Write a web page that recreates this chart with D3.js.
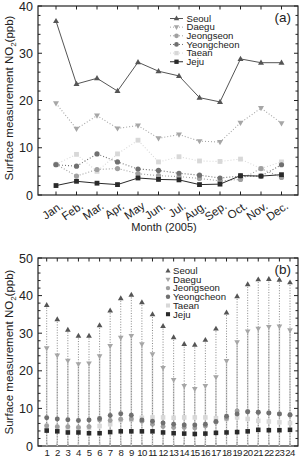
<!DOCTYPE html>
<html><head><meta charset="utf-8">
<script src="https://cdn.jsdelivr.net/npm/d3@7"></script>
<style>body{margin:0;background:#fff}svg{display:block;font-family:"Liberation Sans",Arial,sans-serif}</style>
</head><body>
<script>
const months = ["Jan.","Feb.","Mar.","Apr.","May","Jun.","Jul.","Aug.","Sep.","Oct.","Nov.","Dec."];
const hours = d3.range(1,25);
const seriesNames = ["Seoul","Daegu","Jeongseon","Yeongcheon","Taean","Jeju"];
// Panel (a) monthly means
const mSeoul = [36.8,23.5,24.7,22.0,28.1,26.2,25.2,20.6,19.7,28.8,28.0,28.0];
const mDaegu = [19.4,14.0,16.8,14.1,14.7,12.0,12.8,11.4,11.2,15.3,18.4,15.2];
const mJeongseon = [6.5,4.0,5.4,5.6,4.5,4.1,3.9,3.5,3.0,3.3,5.6,3.7];
const mYeongcheon = [6.4,6.1,8.7,7.0,5.5,5.2,4.6,4.2,3.6,4.0,4.0,6.4];
const mTaean = [6.5,8.6,5.0,8.7,11.6,7.0,8.1,7.2,7.1,7.6,5.6,7.0];
const mJeju = [2.0,2.9,2.5,2.2,3.6,3.3,3.2,2.2,2.3,4.1,4.0,4.3];
// Panel (b) hourly means
const hSeoul = [37.5,33.7,30.9,29.3,29.3,32.1,36.0,39.3,40.2,38.2,35.0,31.9,28.9,27.1,26.9,28.2,31.2,35.5,39.8,43.0,44.3,44.4,44.2,43.5];
const hDaegu = [26.0,24.1,22.7,21.8,22.0,23.9,26.6,28.8,29.3,27.1,24.4,20.8,17.6,16.0,15.2,16.0,18.3,22.6,27.6,30.5,31.2,31.7,31.8,30.8];
const hJeongseon = [5.4,5.1,5.1,4.9,5.1,6.9,6.8,7.1,7.2,6.6,5.8,5.2,4.9,4.9,4.8,5.3,6.3,7.3,9.3,9.1,8.9,8.8,8.5,8.2];
const hYeongcheon = [7.5,7.2,7.0,6.8,6.9,7.3,8.1,8.6,8.2,6.9,6.6,6.1,5.8,5.6,5.6,5.8,6.5,7.9,8.5,9.1,9.0,8.8,8.5,8.3];
const hTaean = [5.0,4.8,4.8,4.7,4.9,5.3,5.8,6.9,7.0,7.5,7.6,7.6,7.5,7.6,7.6,7.6,7.4,7.2,7.6,7.2,6.7,6.5,6.3,6.1];
const hJeju = [4.1,3.9,3.6,3.6,3.4,3.4,3.7,3.9,3.9,3.9,3.9,3.6,3.4,3.3,3.2,3.3,3.5,3.6,3.7,3.9,4.3,4.2,4.2,4.3];
const yTicksA = [0,10,20,30,40];
const yTicksB = [0,10,20,30,40,50];

const styles = {
  Seoul:{shape:"tri",fill:"#555",stroke:"#555",dash:null},
  Daegu:{shape:"itri",fill:"#a6a6a6",stroke:"#a6a6a6",dash:"1,2"},
  Jeongseon:{shape:"circ",fill:"#a0a0a0",stroke:"#a0a0a0",dash:"1,2"},
  Yeongcheon:{shape:"circ",fill:"#707070",stroke:"#707070",dash:"1,2"},
  Taean:{shape:"sq",fill:"#d8d8d8",stroke:"#d8d8d8",dash:"1,2"},
  Jeju:{shape:"sq",fill:"#2a2a2a",stroke:"#2a2a2a",dash:null}
};
const mData = {Seoul:mSeoul,Daegu:mDaegu,Jeongseon:mJeongseon,Yeongcheon:mYeongcheon,Taean:mTaean,Jeju:mJeju};
const hData = {Seoul:hSeoul,Daegu:hDaegu,Jeongseon:hJeongseon,Yeongcheon:hYeongcheon,Taean:hTaean,Jeju:hJeju};

const svg = d3.select("body").append("svg").attr("width",303).attr("height",458);

function marker(g, shape, x, y, fill, s){
  s = s||1;
  if(shape==="tri") g.append("path").attr("d",`M${x},${y-3.2*s}L${x+3*s},${y+2*s}L${x-3*s},${y+2*s}Z`).attr("fill",fill);
  else if(shape==="itri") g.append("path").attr("d",`M${x},${y+3.2*s}L${x+3*s},${y-2*s}L${x-3*s},${y-2*s}Z`).attr("fill",fill);
  else if(shape==="circ") g.append("circle").attr("cx",x).attr("cy",y).attr("r",2.6*s).attr("fill",fill);
  else g.append("rect").attr("x",x-2.4*s).attr("y",y-2.4*s).attr("width",4.8*s).attr("height",4.8*s).attr("fill",fill);
}

function frame(x0,x1,y0,y1,y,yTicks,xTickPos){
  const g = svg.append("g");
  g.append("rect").attr("x",x0).attr("y",y0).attr("width",x1-x0).attr("height",y1-y0).attr("fill","none").attr("stroke","#222").attr("stroke-width",1.2);
  const dom = y.domain();
  d3.range(dom[0],dom[1]+0.001,2).forEach(v=>{
    const major = v%10===0;
    const L = major?4:2.5;
    g.append("line").attr("x1",x0).attr("x2",x0+L).attr("y1",y(v)).attr("y2",y(v)).attr("stroke","#222");
    g.append("line").attr("x1",x1).attr("x2",x1-L).attr("y1",y(v)).attr("y2",y(v)).attr("stroke","#222");
  });
  yTicks.forEach(v=>{
    g.append("text").attr("x",x0-5).attr("y",y(v)+4.5).attr("text-anchor","end").attr("font-size",12.5).attr("fill","#222").text(v);
  });
  xTickPos.forEach(px=>{
    g.append("line").attr("x1",px).attr("x2",px).attr("y1",y0).attr("y2",y0+3.5).attr("stroke","#222");
    g.append("line").attr("x1",px).attr("x2",px).attr("y1",y1).attr("y2",y1-3.5).attr("stroke","#222");
  });
  return g;
}

function ylabel(cx,cy){
  const t = svg.append("text").attr("transform",`translate(${cx},${cy}) rotate(-90)`).attr("text-anchor","middle").attr("font-size",11.5).attr("fill","#222");
  t.append("tspan").text("Surface measurement NO");
  t.append("tspan").attr("font-size",8).attr("dy",3).text("2");
  t.append("tspan").attr("dy",-3).text("(ppb)");
}

// ---------- Panel (a)
const xa = d3.scalePoint().domain(months).range([56,281.5]);
const ya = d3.scaleLinear().domain([0,40]).range([195,6]);
frame(38,298,6,195,ya,yTicksA,months.map(m=>xa(m)));
months.forEach(m=>{
  svg.append("text").attr("transform",`translate(${xa(m)+3},${201}) rotate(-35)`).attr("text-anchor","end").attr("dy","0.7em").attr("font-size",11.5).attr("fill","#222").text(m);
});
svg.append("text").attr("x",164).attr("y",231).attr("text-anchor","middle").attr("font-size",11).attr("fill","#222").text("Month (2005)");
ylabel(13,98);
const order = ["Taean","Jeongseon","Yeongcheon","Daegu","Jeju","Seoul"];
order.forEach(name=>{
  const st = styles[name], vals = mData[name];
  const line = d3.line().x((d,i)=>xa(months[i])).y(d=>ya(d));
  svg.append("path").attr("d",line(vals)).attr("fill","none").attr("stroke",st.stroke).attr("stroke-width",st.dash?1.1:1).attr("stroke-dasharray",st.dash);
  const g = svg.append("g");
  vals.forEach((v,i)=>marker(g,st.shape,xa(months[i]),ya(v),st.fill));
});
svg.append("text").attr("x",291).attr("y",22).attr("text-anchor","end").attr("font-size",13.5).attr("fill","#222").text("(a)");
seriesNames.forEach((name,i)=>{
  const st = styles[name], yy = 18.5 + i*8.65;
  svg.append("line").attr("x1",170).attr("x2",183).attr("y1",yy).attr("y2",yy).attr("stroke",st.stroke).attr("stroke-dasharray",st.dash);
  marker(svg,st.shape,176.5,yy,st.fill,0.9);
  svg.append("text").attr("x",186.5).attr("y",yy+3.3).attr("font-size",9.6).attr("fill","#222").text(name);
});

// ---------- Panel (b)
const xb = d3.scalePoint().domain(hours).range([46.7,290]);
const yb = d3.scaleLinear().domain([0,50]).range([446,258]);
frame(38,298,258,446,yb,yTicksB,hours.map(h=>xb(h)));
hours.forEach(h=>{
  svg.append("text").attr("x",xb(h)).attr("y",455.5).attr("text-anchor","middle").attr("font-size",9.6).attr("letter-spacing",-0.7).attr("fill","#222").text(h);
});
ylabel(13,352);
// drop lines
hours.forEach((h,i)=>{
  svg.append("line").attr("x1",xb(h)).attr("x2",xb(h)).attr("y1",yb(hDaegu[i])).attr("y2",yb(0)).attr("stroke","#d4d4d4").attr("stroke-width",1.5);
  svg.append("line").attr("x1",xb(h)).attr("x2",xb(h)).attr("y1",yb(hSeoul[i])).attr("y2",yb(0)).attr("stroke","#6a6a6a").attr("stroke-width",0.8).attr("stroke-dasharray","1,1.6");
});
order.forEach(name=>{
  const st = styles[name], vals = hData[name];
  const g = svg.append("g");
  vals.forEach((v,i)=>marker(g,st.shape,xb(hours[i]),yb(v),st.fill,0.95));
});
svg.append("text").attr("x",291).attr("y",274).attr("text-anchor","end").attr("font-size",13.5).attr("fill","#222").text("(b)");
seriesNames.forEach((name,i)=>{
  const st = styles[name], yy = 270.7 + i*8.7;
  marker(svg,st.shape,168,yy,st.fill,0.85);
  svg.append("text").attr("x",173).attr("y",yy+3.3).attr("font-size",9.6).attr("fill","#222").text(name);
});
</script>
</body></html>
